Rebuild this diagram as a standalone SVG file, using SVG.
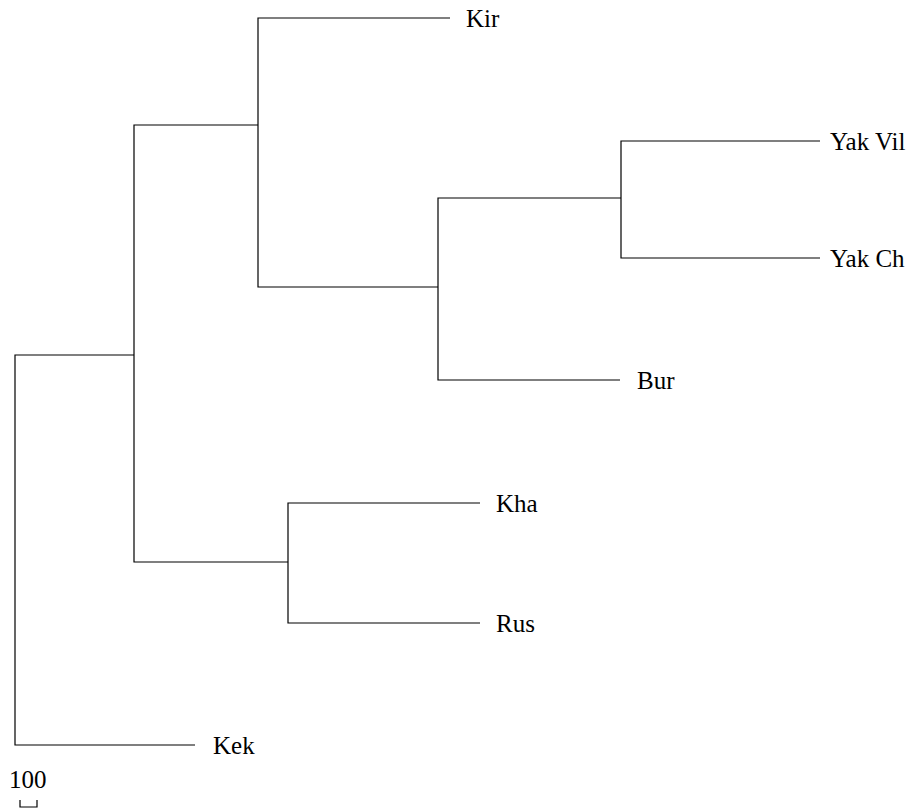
<svg xmlns="http://www.w3.org/2000/svg" width="914" height="810" viewBox="0 0 914 810">
<style>
.e{fill:none;stroke:#000;stroke-width:1.2}
.t{font-family:"Liberation Serif",serif;font-size:25px;fill:#000}
</style>
<rect width="914" height="810" fill="#fff"/>
<g id="connectors">
<path class="e" d="M195,745H15V355H134"/>
<path class="e" d="M258,125H134V562H288"/>
<path class="e" d="M450,18H258V287H438"/>
<path class="e" d="M621,198H438V380H620"/>
<path class="e" d="M820,141H621V258H820"/>
<path class="e" d="M480,503H288V623H480"/>
</g>
<g id="kir"><text class="t" x="466" y="27">Kir</text></g>
<g id="yakvil"><text class="t" x="830" y="150">Yak Vil</text></g>
<g id="yakch"><text class="t" x="830" y="267">Yak Ch</text></g>
<g id="bur"><text class="t" x="637" y="389">Bur</text></g>
<g id="kha"><text class="t" x="496" y="512">Kha</text></g>
<g id="rus"><text class="t" x="496" y="632">Rus</text></g>
<g id="kek"><text class="t" x="213" y="754">Kek</text></g>
<g id="scale">
<text class="t" x="9" y="788">100</text>
<path class="e" d="M20,800V807H37V800" stroke-width="1.5"/>
</g>
</svg>
